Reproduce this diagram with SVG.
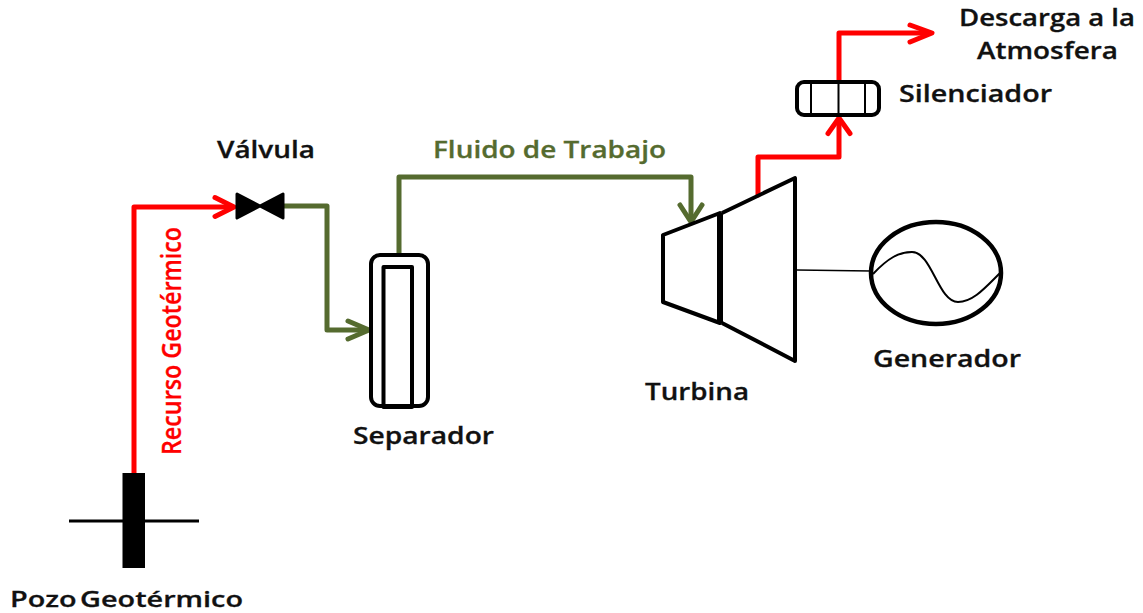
<svg xmlns="http://www.w3.org/2000/svg" width="1143" height="613" viewBox="0 0 1143 613">
<style>
text{font-family:"Open Sans","DejaVu Sans",sans-serif;font-weight:600;font-size:23px;fill:#111;stroke:#111;stroke-width:.3}
.red{fill:none;stroke:#f00;stroke-width:5;stroke-linejoin:round;stroke-linecap:round}
.grn{fill:none;stroke:#556b2f;stroke-width:5;stroke-linejoin:round;stroke-linecap:round}
.blk{fill:none;stroke:#000;stroke-width:4;stroke-linejoin:round}
</style>
<rect width="1143" height="613" fill="#fff"/>
<g id="connectors">
<path class="red" d="M134 475V207H232"/>
<path class="red" d="M215 197.500L234 207L215 216.500"/>
<path class="grn" d="M284 206H327V330H366"/>
<path class="grn" d="M348 321L369 330L348 339"/>
<path class="grn" d="M399 254V177H691V218"/>
<path class="grn" d="M680 205L691 222L702 205"/>
<path class="red" d="M758 195V157H839V120"/>
<path class="red" d="M828 133.500L839 118L850 133.500"/>
<path class="red" d="M839 80V33H928"/>
<path class="red" d="M910 25L932 33L910 42"/>
<path d="M797 270L871 271" fill="none" stroke="#000" stroke-width="1.500"/>
</g>
<g id="well"><rect x="122.500" y="473" width="22.500" height="95"/><path d="M69 521H199" stroke="#000" stroke-width="3"/><text x="10" y="607" font-size="21" style="font-size:21.500px;word-spacing:-3px" textLength="233" lengthAdjust="spacingAndGlyphs">Pozo Geotérmico</text></g>
<g id="valve"><path d="M237 194L260 206L283 194V218L260 206L237 218Z" stroke="#000" stroke-width="3" stroke-linejoin="round"/><text x="217" y="158" textLength="98" lengthAdjust="spacingAndGlyphs">Válvula</text></g>
<g id="separator"><rect class="blk" x="371" y="255" width="57" height="151" rx="9"/><rect class="blk" x="383.500" y="267" width="28.500" height="140"/><text x="353" y="444" textLength="141" lengthAdjust="spacingAndGlyphs">Separador</text></g>
<g id="turbine"><path class="blk" d="M663 235V302L720 323V213Z"/><path class="blk" d="M722 213L795 178V361L722 323"/><path d="M720 213V323" stroke="#000" stroke-width="6"/><text x="645" y="400" textLength="104" lengthAdjust="spacingAndGlyphs">Turbina</text></g>
<g id="generator"><ellipse class="blk" cx="936" cy="273" rx="65" ry="51" style="stroke-width:4.500"/><path d="M873 274C888 258 899 252 912 252C932 252 938 302 958 302C973 302 985 288 1000 273" fill="none" stroke="#000" stroke-width="2"/><text x="873" y="367" textLength="148" lengthAdjust="spacingAndGlyphs">Generador</text></g>
<g id="silencer"><rect class="blk" x="797" y="82" width="82" height="33" rx="7"/><path d="M811 82V115M838.500 82V115M865 82V115" stroke="#000" stroke-width="2"/><text x="899" y="102" textLength="153" lengthAdjust="spacingAndGlyphs">Silenciador</text></g>
<g id="labels">
<text x="959" y="26" textLength="176" lengthAdjust="spacingAndGlyphs">Descarga a la</text>
<text x="977" y="59" textLength="141" lengthAdjust="spacingAndGlyphs">Atmosfera</text>
<text x="433" y="158" textLength="233" lengthAdjust="spacingAndGlyphs" style="fill:#556b2f;stroke:#556b2f">Fluido de Trabajo</text>
<text transform="translate(181 455) rotate(-90)" textLength="228" lengthAdjust="spacingAndGlyphs" style="fill:#f00;stroke:#f00;font-weight:600;font-size:27px">Recurso Geotérmico</text>
</g>
</svg>
